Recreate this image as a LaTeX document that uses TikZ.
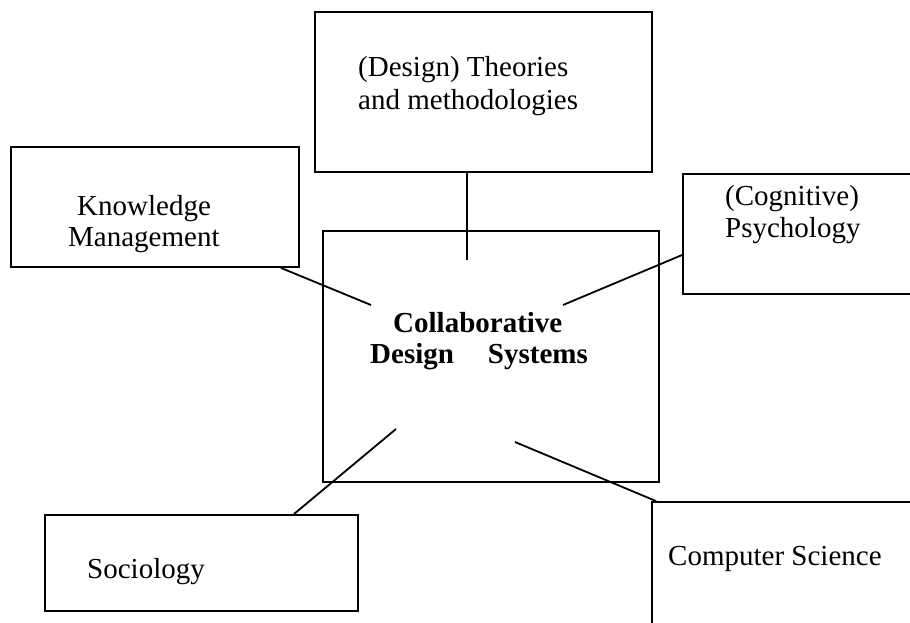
\documentclass[tikz,border=0pt]{standalone}
\usepackage{fontspec}
\setmainfont{Liberation Serif}
\usetikzlibrary{calc}
\begin{document}
\begin{tikzpicture}[x=1pt,y=1pt,
  box/.style={draw=black, line width=1.8pt, fill=none, rectangle, inner sep=0pt},
  lbl/.style={anchor=base west, inner sep=0pt, font=\fontsize{29}{33}\selectfont},
  blbl/.style={anchor=base west, inner sep=0pt, font=\fontsize{29}{33}\selectfont\bfseries},
  link/.style={draw=black, line width=1.8pt}]
\useasboundingbox (0,0) rectangle (910,-623);
\clip (0,0) rectangle (910,-623);
% boxes
\node[box, minimum width=337pt, minimum height=160pt] (design) at (483.5,-92) {};
\node[box, minimum width=336pt, minimum height=251pt] (center) at (491,-356.5) {};
\node[box, minimum width=288pt, minimum height=120pt] (km) at (155,-207) {};
\node[box, minimum width=260pt, minimum height=120pt] (cog) at (813,-234) {};
\node[box, minimum width=313pt, minimum height=96pt] (soc) at (201.5,-563) {};
\node[box, minimum width=290pt, minimum height=160pt] (cs) at (797,-582) {};
% texts
\node[lbl] (designt1) at (358,-77) {(Design) Theories};
\node[lbl] (designt2) at (358,-110) {and methodologies};
\node[lbl] (kmt1) at (77,-215) {Knowledge};
\node[lbl] (kmt2) at (68,-246) {Management};
\node[lbl] (cogt1) at (725,-205) {(Cognitive)};
\node[lbl] (cogt2) at (725,-237) {Psychology};
\node[lbl] (soct) at (87,-578) {Sociology};
\node[lbl] (cst) at (668,-565) {Computer Science};
\node[blbl] (ct1) at (393,-332) {Collaborative};
\node[blbl] (ct2) at (370,-363) {Design\hspace{34pt}Systems};
% connector free ends
\coordinate (dend) at (467,-260);
\coordinate (kmend) at (371,-305);
\coordinate (cogend) at (563,-305);
\coordinate (socend) at (396,-429);
\coordinate (csend) at (515,-442);
% connectors
\draw[link] (design.south -| dend) -- (dend);
\draw[link] ($(km.south east)+(-19,0)$) -- (kmend);
\draw[link] ($(cog.west)+(0,-21)$) -- (cogend);
\draw[link] ($(soc.north east)+(-65,0)$) -- (socend);
\draw[link] ($(cs.north west)+(5,0)$) -- (csend);
\end{tikzpicture}
\end{document}
